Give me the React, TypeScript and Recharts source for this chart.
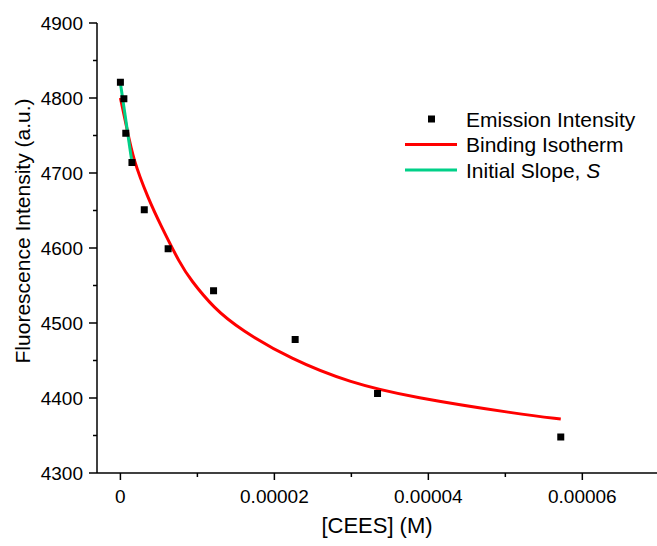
import { ComposedChart, Scatter, Line, XAxis, YAxis, Legend } from 'recharts'

// ── Values ───────────────────────────────────────────────────────────────────

// measured emission (squares)
const CONC = [0, 0.00000045, 0.0000007, 0.0000015, 0.0000031, 0.0000062, 0.0000121, 0.0000227, 0.0000334, 0.0000572]
const EMISSION = [4821, 4799, 4753, 4714, 4651, 4599, 4543, 4478, 4406, 4348]

// fitted binding isotherm (red)
const FIT_X = [0, 0.0000008, 0.00000165, 0.00000365, 0.0000052, 0.0000078, 0.0000091, 0.0000121, 0.0000156, 0.0000221, 0.0000299, 0.0000378, 0.0000521, 0.0000572]
const FIT_Y = [4800, 4762, 4718, 4665, 4631, 4578, 4558, 4520, 4491, 4452, 4420, 4401, 4378, 4372]

// initial slope (green)
const SLOPE_X = [0, 0.00000156]
const SLOPE_Y = [4820, 4710]

const X_MAJOR = [0, 0.00002, 0.00004, 0.00006]
const X_MINOR = [0.00001, 0.00003, 0.00005]
const Y_MAJOR = [4300, 4400, 4500, 4600, 4700, 4800, 4900]
const Y_MINOR = [4350, 4450, 4550, 4650, 4750, 4850]

const LEGEND_ITEMS = [
  { name: 'Emission Intensity', kind: 'square', color: '#000000' },
  { name: 'Binding Isotherm', kind: 'line', color: '#FF0000' },
  { name: 'Initial Slope, ', italic: 'S', kind: 'line', color: '#00D088' },
]

// ─────────────────────────────────────────────────────────────────────────────

const FONT = '"Liberation Sans", Arial, sans-serif'

const scatterData = CONC.map((x, i) => ({ x, y: EMISSION[i] }))
const fitData = FIT_X.map((x, i) => ({ x, y: FIT_Y[i] }))
const slopeData = SLOPE_X.map((x, i) => ({ x, y: SLOPE_Y[i] }))

const xTicks = [...X_MAJOR, ...X_MINOR].sort((a, b) => a - b)
const yTicks = [...Y_MAJOR, ...Y_MINOR].sort((a, b) => a - b)

const isMajor = (list: number[], v: number) => list.some((m) => Math.abs(m - v) < 1e-12)

function XTick({ x, y, payload }: any) {
  const major = isMajor(X_MAJOR, payload.value)
  return (
    <g>
      <line x1={x} x2={x} y1={y} y2={y + (major ? 7 : 4)} stroke="#000" strokeWidth={1.5} />
      {major && (
        <text x={x} y={y + 30} textAnchor="middle" fontSize={19} fontFamily={FONT} fill="#000">
          {String(payload.value)}
        </text>
      )}
    </g>
  )
}

function YTick({ x, y, payload }: any) {
  const major = isMajor(Y_MAJOR, payload.value)
  return (
    <g>
      <line x1={x} x2={x - (major ? 8 : 4)} y1={y} y2={y} stroke="#000" strokeWidth={1.5} />
      {major && (
        <text x={x - 14} y={y} dy="0.35em" textAnchor="end" fontSize={19} fontFamily={FONT} fill="#000">
          {payload.value}
        </text>
      )}
    </g>
  )
}

function SquareDot({ cx, cy }: any) {
  return <rect x={cx - 3.5} y={cy - 3.5} width={7} height={7} fill="#000" />
}

function LegendBox() {
  return (
    <svg width={257} height={90} style={{ display: 'block' }}>
      {LEGEND_ITEMS.map((it, i) => {
        const cy = 19 + i * 25.5
        return (
          <g key={it.name}>
            {it.kind === 'square' ? (
              <rect x={28} y={cy - 3.5} width={7} height={7} fill={it.color} />
            ) : (
              <line x1={5} x2={57} y1={cy} y2={cy} stroke={it.color} strokeWidth={3} />
            )}
            <text x={66} y={cy} dy="0.36em" fontSize={21} fontFamily={FONT} fill="#000">
              {it.name}
              {it.italic && <tspan fontStyle="italic">{it.italic}</tspan>}
            </text>
          </g>
        )
      })}
    </svg>
  )
}

export default function App() {
  return (
    <div style={{ position: 'absolute', left: 0, top: 0, background: '#fff' }}>
      <ComposedChart width={657} height={546} margin={{ top: 23, right: 0, left: 0, bottom: 0 }}>
        <XAxis
          type="number"
          dataKey="x"
          domain={[-0.00000304, 0.0000697]}
          ticks={xTicks}
          interval={0}
          height={73}
          tickSize={0}
          tickMargin={0}
          tickLine={false}
          axisLine={{ stroke: '#000', strokeWidth: 1.5 }}
          tick={<XTick />}
          allowDataOverflow
          label={({ viewBox }: any) => (
            <text
              x={viewBox.x + viewBox.width / 2}
              y={viewBox.y + 60}
              textAnchor="middle"
              fontSize={22}
              fontFamily={FONT}
              fill="#000"
            >
              [CEES] (M)
            </text>
          )}
        />
        <YAxis
          type="number"
          dataKey="y"
          domain={[4300, 4900]}
          ticks={yTicks}
          interval={0}
          width={97}
          tickSize={0}
          tickMargin={0}
          tickLine={false}
          axisLine={{ stroke: '#000', strokeWidth: 1.5 }}
          tick={<YTick />}
          allowDataOverflow
          label={({ viewBox }: any) => {
            const cx = viewBox.x + 23
            const cy = viewBox.y + viewBox.height / 2 - 17
            return (
              <text
                x={cx}
                y={cy}
                dy="0.35em"
                textAnchor="middle"
                transform={`rotate(-90, ${cx}, ${cy})`}
                fontSize={21}
                fontFamily={FONT}
                fill="#000"
              >
                Fluorescence Intensity (a.u.)
              </text>
            )
          }}
        />
        <Legend
          layout="vertical"
          align="center"
          verticalAlign="middle"
          content={<LegendBox />}
          wrapperStyle={{ position: 'absolute', left: 400, top: 100, width: 257, height: 90 }}
        />
        <Line
          data={fitData}
          dataKey="y"
          type="basis"
          stroke="#FF0000"
          strokeWidth={3}
          dot={false}
          activeDot={false}
          isAnimationActive={false}
        />
        <Line
          data={slopeData}
          dataKey="y"
          type="linear"
          stroke="#00D088"
          strokeWidth={3}
          dot={false}
          activeDot={false}
          isAnimationActive={false}
        />
        <Scatter data={scatterData} dataKey="y" shape={<SquareDot />} isAnimationActive={false} />
      </ComposedChart>
    </div>
  )
}
